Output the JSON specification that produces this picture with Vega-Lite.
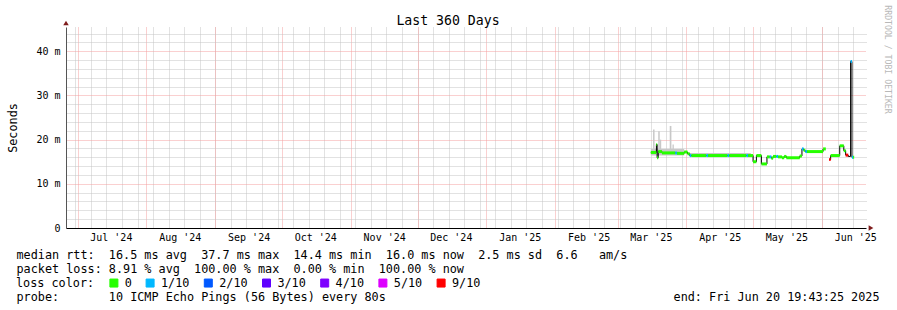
{
  "$schema": "https://vega.github.io/schema/vega-lite/v6.json",
  "width": 800,
  "height": 201,
  "autosize": "none",
  "padding": {"left": 66, "top": 27, "right": 31, "bottom": 82},
  "background": "#ffffff",
  "config": {"view": {"stroke": null}, "font": "DejaVu Sans Mono"},
  "datasets": {
    "median": [
      {"t": "2025-03-16T00:00", "t2": "2025-03-18T12:00", "med": 17.1, "loss": "0", "run": "a"},
      {"t": "2025-03-18T12:00", "t2": "2025-03-18T20:00", "med": 18.9, "loss": "0", "run": "a"},
      {"t": "2025-03-18T20:00", "t2": "2025-03-19T08:00", "med": 15.9, "loss": "0", "run": "a"},
      {"t": "2025-03-19T08:00", "t2": "2025-03-21T00:00", "med": 17.3, "loss": "0", "run": "a"},
      {"t": "2025-03-21T00:00", "t2": "2025-03-27T00:00", "med": 17.0, "loss": "0", "run": "a"},
      {"t": "2025-03-27T00:00", "t2": "2025-03-27T18:00", "med": 17.0, "loss": "1/10", "run": "a"},
      {"t": "2025-03-27T18:00", "t2": "2025-03-31T00:00", "med": 16.9, "loss": "0", "run": "a"},
      {"t": "2025-03-31T00:00", "t2": "2025-04-01T12:00", "med": 17.2, "loss": "0", "run": "a"},
      {"t": "2025-04-01T12:00", "t2": "2025-04-02T12:00", "med": 16.8, "loss": "0", "run": "a"},
      {"t": "2025-04-02T12:00", "t2": "2025-04-03T06:00", "med": 16.4, "loss": "1/10", "run": "a"},
      {"t": "2025-04-03T06:00", "t2": "2025-04-10T00:00", "med": 16.4, "loss": "0", "run": "a"},
      {"t": "2025-04-10T00:00", "t2": "2025-04-10T18:00", "med": 16.4, "loss": "1/10", "run": "a"},
      {"t": "2025-04-10T18:00", "t2": "2025-04-19T12:00", "med": 16.4, "loss": "0", "run": "a"},
      {"t": "2025-04-19T12:00", "t2": "2025-04-20T06:00", "med": 16.4, "loss": "1/10", "run": "a"},
      {"t": "2025-04-20T06:00", "t2": "2025-04-28T00:00", "med": 16.4, "loss": "0", "run": "a"},
      {"t": "2025-04-28T00:00", "t2": "2025-04-28T18:00", "med": 16.4, "loss": "1/10", "run": "a"},
      {"t": "2025-04-28T18:00", "t2": "2025-05-01T00:00", "med": 16.4, "loss": "0", "run": "a"},
      {"t": "2025-05-01T00:00", "t2": "2025-05-02T12:00", "med": 15.0, "loss": "0", "run": "a"},
      {"t": "2025-05-02T12:00", "t2": "2025-05-04T18:00", "med": 16.4, "loss": "0", "run": "a"},
      {"t": "2025-05-04T18:00", "t2": "2025-05-07T06:00", "med": 14.5, "loss": "0", "run": "a"},
      {"t": "2025-05-07T06:00", "t2": "2025-05-08T12:00", "med": 16.1, "loss": "0", "run": "a"},
      {"t": "2025-05-08T12:00", "t2": "2025-05-09T06:00", "med": 16.1, "loss": "1/10", "run": "a"},
      {"t": "2025-05-09T06:00", "t2": "2025-05-10T00:00", "med": 15.8, "loss": "0", "run": "a"},
      {"t": "2025-05-10T00:00", "t2": "2025-05-11T12:00", "med": 16.2, "loss": "0", "run": "a"},
      {"t": "2025-05-11T12:00", "t2": "2025-05-12T06:00", "med": 16.2, "loss": "1/10", "run": "a"},
      {"t": "2025-05-12T06:00", "t2": "2025-05-14T00:00", "med": 16.1, "loss": "0", "run": "a"},
      {"t": "2025-05-14T00:00", "t2": "2025-05-15T00:00", "med": 15.9, "loss": "0", "run": "a"},
      {"t": "2025-05-15T00:00", "t2": "2025-05-16T00:00", "med": 16.2, "loss": "0", "run": "a"},
      {"t": "2025-05-16T00:00", "t2": "2025-05-22T00:00", "med": 15.9, "loss": "0", "run": "a"},
      {"t": "2025-05-22T00:00", "t2": "2025-05-23T00:00", "med": 16.3, "loss": "0", "run": "a"},
      {"t": "2025-05-23T00:00", "t2": "2025-05-23T18:00", "med": 17.9, "loss": "1/10", "run": "a"},
      {"t": "2025-05-23T18:00", "t2": "2025-05-24T12:00", "med": 17.6, "loss": "0", "run": "a"},
      {"t": "2025-05-24T12:00", "t2": "2025-05-25T06:00", "med": 17.3, "loss": "1/10", "run": "a"},
      {"t": "2025-05-25T06:00", "t2": "2025-06-01T12:00", "med": 17.3, "loss": "0", "run": "a"},
      {"t": "2025-06-01T12:00", "t2": "2025-06-02T18:00", "med": 17.9, "loss": "0", "run": "a"},
      {"t": "2025-06-04T06:00", "t2": "2025-06-04T22:00", "med": 15.5, "loss": "9/10", "run": "b"},
      {"t": "2025-06-04T22:00", "t2": "2025-06-09T00:00", "med": 16.4, "loss": "0", "run": "b"},
      {"t": "2025-06-09T00:00", "t2": "2025-06-10T20:00", "med": 18.6, "loss": "0", "run": "b"},
      {"t": "2025-06-10T20:00", "t2": "2025-06-11T16:00", "med": 17.5, "loss": "0", "run": "b"},
      {"t": "2025-06-11T16:00", "t2": "2025-06-12T20:00", "med": 16.5, "loss": "9/10", "run": "b"},
      {"t": "2025-06-12T20:00", "t2": "2025-06-13T21:00", "med": 16.2, "loss": null, "run": "b"},
      {"t": "2025-06-13T21:00", "t2": "2025-06-14T12:00", "med": 37.7, "loss": "1/10", "run": "b"},
      {"t": "2025-06-14T12:00", "t2": "2025-06-15T00:00", "med": 16.0, "loss": "1/10", "run": "b"},
      {"t": "2025-06-15T00:00", "t2": "2025-06-15T12:00", "med": 16.0, "loss": "0", "run": "b"}
    ],
    "smoke": [
      {"t": "2025-03-16T00:00", "t2": "2025-03-31T00:00", "lo": 16.4, "hi": 17.9},
      {"t": "2025-04-02T12:00", "t2": "2025-04-30T00:00", "lo": 16.1, "hi": 17.0},
      {"t": "2025-03-17T00:00", "t2": "2025-03-17T16:00", "lo": 16.8, "hi": 22.3},
      {"t": "2025-03-19T08:00", "t2": "2025-03-20T00:00", "lo": 16.8, "hi": 21.9},
      {"t": "2025-03-20T00:00", "t2": "2025-03-20T16:00", "lo": 16.8, "hi": 20.0},
      {"t": "2025-03-24T12:00", "t2": "2025-03-25T06:00", "lo": 16.8, "hi": 23.1},
      {"t": "2025-03-25T18:00", "t2": "2025-03-26T08:00", "lo": 16.8, "hi": 18.9}
    ]
  },
  "resolve": {"axis": {"x": "independent", "y": "independent"}},
  "layer": [
    {
      "data": {"name": "smoke"},
      "mark": {"type": "rect", "color": "#c8c8c8"},
      "encoding": {
        "x": {
          "field": "t", "type": "temporal",
          "scale": {"domain": [
            {"year": 2024, "month": 6, "date": 25, "hours": 19, "minutes": 43, "seconds": 25},
            {"year": 2025, "month": 6, "date": 20, "hours": 19, "minutes": 43, "seconds": 25}
          ]},
          "axis": {
            "orient": "bottom", "tickCount": {"interval": "week", "step": 1},
            "grid": true, "gridColor": "#c4c4c4", "gridDash": [1, 1], "gridWidth": 1,
            "labels": false, "ticks": false, "domain": false,
            "title": "end:\u00a0Fri\u00a0Jun\u00a020\u00a019:43:25\u00a02025",
            "titleFont": "DejaVu Sans Mono", "titleFontSize": 11.8, "titleFontWeight": "normal", "titleColor": "#000",
            "titleX": 813, "titleY": 72, "titleAlign": "right", "titleAnchor": "end", "titleBaseline": "alphabetic"
          }
        },
        "x2": {"field": "t2"},
        "y": {
          "field": "lo", "type": "quantitative",
          "scale": {"domain": [0, 45.5], "nice": false, "zero": true},
          "axis": {
            "orient": "right", "values": [2, 4, 6, 8, 12, 14, 16, 18, 22, 24, 26, 28, 32, 34, 36, 38, 42, 44],
            "grid": true, "gridColor": "#c4c4c4", "gridDash": [1, 1], "gridWidth": 1,
            "labels": false, "ticks": false, "domain": false,
            "title": "RRDTOOL\u00a0/\u00a0TOBI\u00a0OETIKER",
            "titleFont": "DejaVu Sans Mono", "titleFontSize": 8.2, "titleFontWeight": "normal", "titleColor": "#b8b8b8",
            "titleAngle": 90, "titleX": 20.5, "titleY": 32, "titleAlign": "center", "titleBaseline": "middle"
          }
        },
        "y2": {"field": "hi"}
      }
    },
    {
      "data": {"name": "median"},
      "mark": {"type": "line", "interpolate": "step-after", "color": "#000000", "strokeWidth": 1},
      "encoding": {
        "x": {
          "field": "t", "type": "temporal",
          "axis": {
            "orient": "top", "tickCount": {"interval": "month", "step": 1},
            "grid": true, "gridColor": "#f4a0a0", "gridDash": [1, 1], "gridWidth": 1,
            "labels": false, "ticks": false, "domain": false,
            "title": "Last\u00a0360\u00a0Days",
            "titleFont": "DejaVu Sans Mono", "titleFontSize": 13.2, "titleFontWeight": "normal", "titleColor": "#000",
            "titleX": 381.5, "titleY": -3, "titleAlign": "center", "titleBaseline": "alphabetic"
          }
        },
        "y": {
          "field": "med", "type": "quantitative",
          "axis": {
            "orient": "left", "values": [0, 10, 20, 30, 40],
            "grid": true, "gridColor": "#f4a0a0", "gridDash": [1, 1], "gridWidth": 1,
            "ticks": false, "domain": true, "domainColor": "#555555", "domainWidth": 1,
            "labelFont": "DejaVu Sans Mono", "labelFontSize": 10, "labelColor": "#000", "labelPadding": 6,
            "labelExpr": "datum.value == 0 ? '\u00a00\u00a0\u00a0' : datum.value + '\u00a0m'",
            "title": "Seconds", "titleFont": "DejaVu Sans Mono", "titleFontSize": 11.8, "titleFontWeight": "normal", "titleColor": "#000",
            "titleX": -49.5, "titleY": 100.5, "titleAngle": -90, "titleAlign": "center", "titleBaseline": "alphabetic"
          }
        },
        "detail": {"field": "run"}
      }
    },
    {
      "data": {"name": "median"},
      "transform": [{"filter": "datum.loss != null"}],
      "mark": {"type": "rule", "strokeWidth": 3, "strokeCap": "butt"},
      "encoding": {
        "x": {
          "field": "t", "type": "temporal",
          "axis": {
            "orient": "bottom",
            "values": [
              {"year": 2024, "month": 7, "date": 16}, {"year": 2024, "month": 8, "date": 16},
              {"year": 2024, "month": 9, "date": 16}, {"year": 2024, "month": 10, "date": 16},
              {"year": 2024, "month": 11, "date": 16}, {"year": 2024, "month": 12, "date": 16},
              {"year": 2025, "month": 1, "date": 16}, {"year": 2025, "month": 2, "date": 16},
              {"year": 2025, "month": 3, "date": 16}, {"year": 2025, "month": 4, "date": 16},
              {"year": 2025, "month": 5, "date": 16}, {"year": 2025, "month": 6, "date": 16}
            ],
            "format": "%b '%y",
            "grid": false, "ticks": false, "domain": true, "domainColor": "#000000", "domainWidth": 1,
            "labelFont": "DejaVu Sans Mono", "labelFontSize": 10, "labelColor": "#000", "labelPadding": 4,
            "labelFlush": false, "labelOverlap": false, "labelBound": false,
            "title": [
              "median\u00a0rtt:\u00a0\u00a016.5\u00a0ms\u00a0avg\u00a0\u00a037.7\u00a0ms\u00a0max\u00a0\u00a014.4\u00a0ms\u00a0min\u00a0\u00a016.0\u00a0ms\u00a0now\u00a0\u00a02.5\u00a0ms\u00a0sd\u00a0\u00a06.6\u00a0\u00a0\u00a0am/s",
              "packet\u00a0loss:\u00a08.91\u00a0%\u00a0avg\u00a0\u00a0100.00\u00a0%\u00a0max\u00a0\u00a00.00\u00a0%\u00a0min\u00a0\u00a0100.00\u00a0%\u00a0now"
            ],
            "titleFont": "DejaVu Sans Mono", "titleFontSize": 11.8, "titleFontWeight": "normal", "titleColor": "#000",
            "titleX": -50, "titleY": 30, "titleAlign": "left", "titleAnchor": "start", "titleBaseline": "alphabetic", "titleLineHeight": 14
          }
        },
        "x2": {"field": "t2"},
        "y": {"field": "med", "type": "quantitative", "axis": null},
        "stroke": {
          "field": "loss", "type": "nominal",
          "scale": {"domain": ["0", "1/10", "2/10", "3/10", "4/10", "5/10", "9/10"],
                    "range": ["#26ff00", "#00b8ff", "#0059ff", "#5e00ff", "#7e00ff", "#dd00ff", "#ff0000"]},
          "legend": null
        },
        "fill": {
          "field": "loss", "type": "nominal",
          "scale": {"domain": ["0", "1/10", "2/10", "3/10", "4/10", "5/10", "9/10"],
                    "range": ["#26ff00", "#00b8ff", "#0059ff", "#5e00ff", "#7e00ff", "#dd00ff", "#ff0000"]},
          "legend": {
            "title": "loss\u00a0color:", "orient": "none", "legendX": -50, "legendY": 250,
            "direction": "horizontal", "titleOrient": "left", "titlePadding": 13,
            "titleFont": "DejaVu Sans Mono", "titleFontSize": 11.8, "titleFontWeight": "normal", "titleColor": "#000",
            "titleBaseline": "middle", "titleLimit": 300,
            "symbolType": "square", "symbolSize": 64, "symbolStrokeColor": "#000", "symbolStrokeWidth": 1, "symbolOpacity": 1,
            "labelFont": "DejaVu Sans Mono", "labelFontSize": 11.8, "labelColor": "#000", "labelOffset": 5,
            "columnPadding": 11.2, "padding": 0, "offset": 0
          }
        }
      }
    },
    {
      "data": {"values": [{"k": 1}]},
      "mark": {"type": "point", "shape": "triangle-right", "filled": true, "color": "#7f1d1d", "size": 30, "xOffset": 5, "opacity": 1},
      "encoding": {
        "x": {
          "datum": {"year": 2025, "month": 6, "date": 20, "hours": 19, "minutes": 43, "seconds": 25}, "type": "temporal",
          "axis": {
            "orient": "bottom", "grid": false, "labels": false, "ticks": false, "domain": false,
            "title": "probe:\u00a0\u00a0\u00a0\u00a0\u00a0\u00a0\u00a010\u00a0ICMP\u00a0Echo\u00a0Pings\u00a0(56\u00a0Bytes)\u00a0every\u00a080s",
            "titleFont": "DejaVu Sans Mono", "titleFontSize": 11.8, "titleFontWeight": "normal", "titleColor": "#000",
            "titleX": -50, "titleY": 72, "titleAlign": "left", "titleAnchor": "start", "titleBaseline": "alphabetic"
          }
        },
        "y": {"datum": 0, "type": "quantitative", "axis": null}
      }
    },
    {
      "data": {"values": [{"k": 1}]},
      "mark": {"type": "point", "shape": "triangle-up", "filled": true, "color": "#7f1d1d", "size": 30, "yOffset": -4, "opacity": 1},
      "encoding": {
        "x": {"datum": {"year": 2024, "month": 6, "date": 25, "hours": 19, "minutes": 43, "seconds": 25}, "type": "temporal", "axis": null},
        "y": {"datum": 45.5, "type": "quantitative", "axis": null}
      }
    }
  ]
}
